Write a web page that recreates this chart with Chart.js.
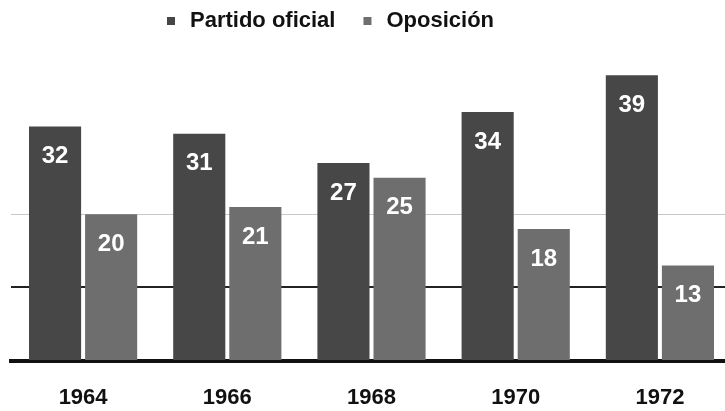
<!DOCTYPE html>
<html>
<head>
<meta charset="utf-8">
<title>Partido oficial vs Oposición</title>
<style>
  body { margin: 0; overflow: hidden; background: #fff; }
</style>
</head>
<body>
<canvas id="myChart" width="740" height="411"></canvas>
<script src="https://cdn.jsdelivr.net/npm/chart.js"></script>
<script>
const years = ['1964', '1966', '1968', '1970', '1972'];
const oficial = [32, 31, 27, 34, 39];
const oposicion = [20, 21, 25, 18, 13];
const seriesNames = ['Partido oficial', 'Oposición'];
const seriesColors = ['#474747', '#6e6e6e'];

// white numbers inside the top of each bar
const valueLabels = {
  id: 'valueLabels',
  afterDatasetsDraw(chart) {
    const ctx = chart.ctx;
    ctx.save();
    ctx.font = 'bold 24px "Liberation Sans", Arial, sans-serif';
    ctx.textAlign = 'center';
    ctx.textBaseline = 'middle';
    ctx.fillStyle = '#fff';
    chart.data.datasets.forEach((ds, i) => {
      chart.getDatasetMeta(i).data.forEach((bar, j) => {
        ctx.fillText(ds.data[j], bar.x, bar.y + 30);
      });
    });
    ctx.restore();
  }
};

// legend sits a bit left of centre in the original
const topLegend = {
  id: 'topLegend',
  afterDraw(chart) {
    const ctx = chart.ctx;
    ctx.save();
    ctx.font = 'bold 22px "Liberation Sans", Arial, sans-serif';
    ctx.textBaseline = 'middle';
    let x = 167;
    chart.data.datasets.forEach(ds => {
      ctx.fillStyle = ds.backgroundColor;
      ctx.fillRect(x, 17, 8, 8);
      ctx.fillStyle = '#111';
      ctx.fillText(ds.label, x + 23, 21);
      x += 23 + ctx.measureText(ds.label).width + 28;
    });
    ctx.restore();
  }
};

new Chart(document.getElementById('myChart'), {
  type: 'bar',
  data: {
    labels: years,
    datasets: [
      { label: seriesNames[0], data: oficial, backgroundColor: seriesColors[0] },
      { label: seriesNames[1], data: oposicion, backgroundColor: seriesColors[1] }
    ]
  },
  options: {
    responsive: false,
    animation: false,
    layout: { padding: { left: 11, right: 8, top: 68, bottom: -24 } },
    plugins: { legend: { display: false }, tooltip: { enabled: false } },
    datasets: { bar: { categoryPercentage: 0.778, barPercentage: 0.929 } },
    scales: {
      x: {
        grid: { display: false, drawTicks: false },
        border: { color: '#111', width: 4 },
        ticks: {
          padding: 24,
          color: '#111',
          font: { family: '"Liberation Sans", Arial, sans-serif', size: 22, weight: 'bold' }
        }
      },
      y: {
        min: 0,
        max: 40,
        border: { display: false },
        ticks: { display: false, stepSize: 10 },
        grid: {
          drawTicks: false,
          color: c => c.tick.value === 10 ? '#222' : (c.tick.value === 20 ? '#c8c8c8' : 'rgba(0,0,0,0)'),
          lineWidth: c => c.tick.value === 10 ? 2 : 1
        }
      }
    }
  },
  plugins: [valueLabels, topLegend]
});
</script>
</body>
</html>
